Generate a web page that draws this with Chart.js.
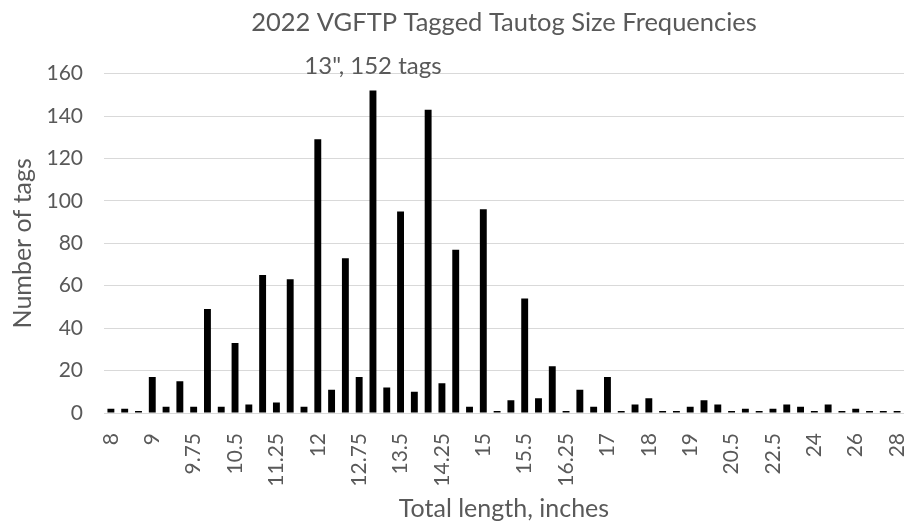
<!DOCTYPE html>
<html>
<head>
<meta charset="utf-8">
<script src="https://cdn.jsdelivr.net/npm/chart.js@4"></script>
<style>
  body { margin: 0; background: #fff; }
  #wrap { width: 906px; height: 524px; }
</style>
</head>
<body>
<div id="wrap"><canvas id="myChart"></canvas></div>
<script>
// size classes (inches) - only every 3rd one is labelled on the axis
var lengths = ['8', '8.25', '8.5', '9', '9.25', '9.5', '9.75', '10', '10.25', '10.5',
    '10.75', '11', '11.25', '11.5', '11.75', '12', '12.25', '12.5', '12.75', '13',
    '13.25', '13.5', '13.75', '14', '14.25', '14.5', '14.75', '15', '15.25', '15.375',
    '15.5', '15.75', '16', '16.25', '16.5', '16.75', '17', '17.25', '17.5', '18',
    '18.25', '18.5', '19', '19.5', '20', '20.5', '21', '22', '22.5', '23',
    '23.5', '24', '24.5', '25', '26', '26.5', '27', '28'];

var tagCounts = [2, 2, 1, 17, 3, 15, 3, 49, 3, 33,
    4, 65, 5, 63, 3, 129, 11, 73, 17, 152,
    12, 95, 10, 143, 14, 77, 3, 96, 1, 6,
    54, 7, 22, 1, 11, 3, 17, 1, 4, 7,
    1, 1, 3, 6, 4, 1, 2, 1, 2, 4,
    3, 1, 4, 1, 2, 1, 1, 1];

var yTicks = [0, 20, 40, 60, 80, 100, 120, 140, 160];
var peakLength = '13';
var peakNote = '13", 152 tags';

var textColor = '#595959';
var fontFamily = 'Lato, "Open Sans", sans-serif';

// label over the tallest bar
var peakLabel = {
    id: 'peakLabel',
    afterDatasetsDraw: function (chart) {
        var idx = lengths.indexOf(peakLength);
        var x = chart.scales.x.getPixelForValue(idx);
        var y = chart.scales.y.getPixelForValue(tagCounts[idx]) - 24;
        var ctx = chart.ctx;
        ctx.save();
        ctx.font = '24px ' + fontFamily;
        ctx.fillStyle = textColor;
        ctx.textAlign = 'center';
        ctx.textBaseline = 'middle';
        ctx.fillText(peakNote, x, y);
        ctx.restore();
    }
};

var ctx = document.getElementById('myChart').getContext('2d');
var chart = new Chart(ctx, {
    type: 'bar',
    data: {
        labels: lengths,
        datasets: [{
            label: 'Tags',
            data: tagCounts,
            backgroundColor: '#000000',
            borderWidth: 0,
            barPercentage: 0.5,
            categoryPercentage: 1.0
        }]
    },
    options: {
        responsive: true,
        maintainAspectRatio: false,
        animation: false,
        layout: { padding: { right: 2 } },
        plugins: {
            legend: { display: false },
            tooltip: { enabled: false },
            title: {
                display: true,
                fullSize: false,
                text: '2022 VGFTP Tagged Tautog Size Frequencies',
                color: textColor,
                font: { family: fontFamily, size: 25.5, weight: 'normal' },
                padding: { top: 7, bottom: 36 }
            }
        },
        scales: {
            x: {
                grid: { display: false },
                border: { display: false },
                afterFit: function (axis) {
                    axis.height = 111;
                    axis.paddingLeft = 0;
                    axis.paddingRight = 0;
                },
                ticks: {
                    autoSkip: false,
                    minRotation: 90,
                    maxRotation: 90,
                    padding: 12,
                    color: textColor,
                    font: { family: fontFamily, size: 21 },
                    callback: function (value, index) {
                        return index % 3 === 0 ? lengths[index] : '';
                    }
                },
                title: {
                    display: true,
                    text: 'Total length, inches',
                    color: textColor,
                    font: { family: fontFamily, size: 25 },
                    padding: { top: 0, bottom: 0 }
                }
            },
            y: {
                min: yTicks[0],
                max: yTicks[yTicks.length - 1],
                grid: { color: '#d9d9d9', lineWidth: 1, drawTicks: false },
                border: { display: false },
                afterBuildTicks: function (axis) {
                    axis.ticks = yTicks.map(function (v) { return { value: v }; });
                },
                afterFit: function (axis) {
                    axis.width = 104;
                },
                ticks: {
                    padding: 21,
                    color: textColor,
                    font: { family: fontFamily, size: 21 }
                },
                title: {
                    display: true,
                    text: 'Number of tags',
                    color: textColor,
                    font: { family: fontFamily, size: 25 },
                    padding: { top: 8, bottom: 0 }
                }
            }
        }
    },
    plugins: [peakLabel]
});
</script>
</body>
</html>
